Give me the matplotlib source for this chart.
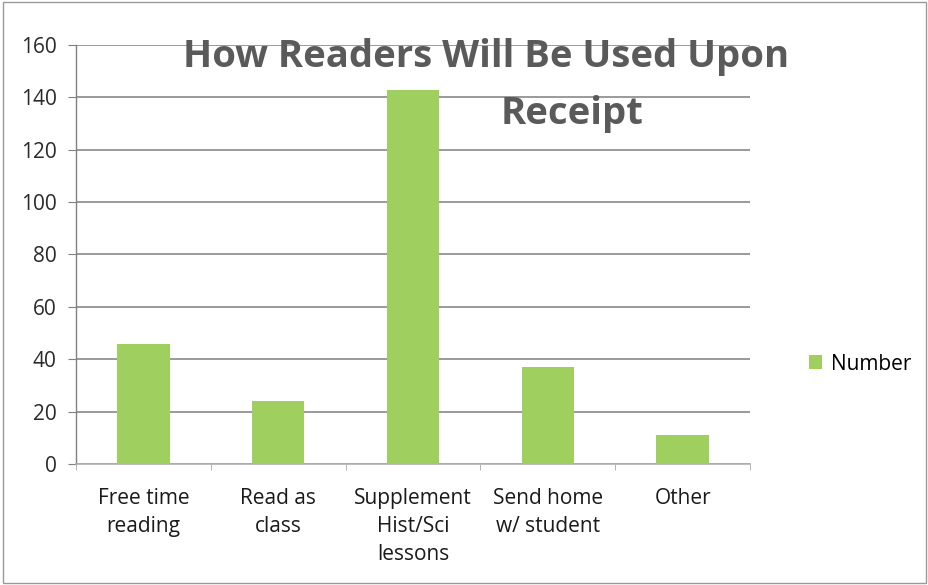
import matplotlib
matplotlib.use("Agg")
import matplotlib.pyplot as plt
from matplotlib.patches import Rectangle

categories = ["Free time\nreading", "Read as\nclass", "Supplement\nHist/Sci\nlessons", "Send home\nw/ student", "Other"]
values = [46, 24, 143, 37, 11]
yticks = [0, 20, 40, 60, 80, 100, 120, 140, 160]
series_name = "Number"

plt.rcParams['font.family'] = ['Open Sans', 'DejaVu Sans']

fig = plt.figure(figsize=(9.29, 5.85), dpi=100)
ax = fig.add_axes([76/929, 1 - 464/585, (750-76)/929, (464-45)/585])

ax.set_ylim(0, 160)
ax.set_xlim(-0.5, len(categories) - 0.5)
ax.set_yticks(yticks)
ax.yaxis.grid(True, color="#9a9a9a", linewidth=1.4)
ax.set_axisbelow(True)

bars = ax.bar(range(len(categories)), values, width=0.39, color="#9fd05f", label=series_name, zorder=3)

ax.set_xticks(range(len(categories)))
ax.set_xticklabels(categories, fontsize=15, color="#1a1a1a", linespacing=1.45)
ax.tick_params(axis='x', length=0, pad=17)
ax.tick_params(axis='y', labelsize=15, labelcolor="#2a2a2a", length=6, color="#808080", pad=8)
ax.set_xticks([i + 0.5 for i in range(-1, len(categories))], minor=True)
ax.tick_params(axis='x', which='minor', length=4, color="#aaaaaa")

for s in ["top", "right"]:
    ax.spines[s].set_visible(False)
ax.spines["left"].set_color("#808080")
ax.spines["bottom"].set_color("#b0b0b0")
ax.spines["left"].set_linewidth(1.0)
ax.spines["bottom"].set_linewidth(1.2)

fig.text(486/929, 1 - 57/585, "How Readers Will Be Used Upon", ha="center", va="center",
         fontsize=27.5, fontweight="bold", color="#5a5a5a")
fig.text(572/929, 1 - 114/585, "Receipt", ha="center", va="center",
         fontsize=27.5, fontweight="bold", color="#5a5a5a")

leg = fig.legend(handles=[bars], labels=[series_name], loc="center left",
                 bbox_to_anchor=(790/929, 1 - 364/585), frameon=False,
                 fontsize=15, handlelength=0.65, handleheight=0.65, handletextpad=0.4)

fig.patches.append(Rectangle((0.003, 0.003), 0.994, 0.994, transform=fig.transFigure,
                             fill=False, edgecolor="#9a9a9a", linewidth=1.0))

fig.savefig("out.png", dpi=100)
